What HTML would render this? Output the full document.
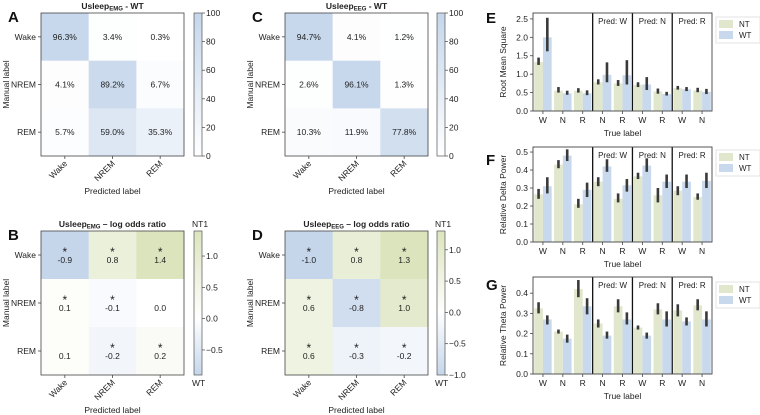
<!DOCTYPE html>
<html><head><meta charset="utf-8"><style>
html,body{margin:0;padding:0;background:#fff;}
svg{display:block;font-family:"Liberation Sans","DejaVu Sans",sans-serif;}
</style></head><body>
<svg id="fig" width="760" height="415" viewBox="0 0 760 415"></svg>
<script>
// ---------- data ----------
const stageLabels = ["Wake","NREM","REM"];
const confA = [[96.3,3.4,0.3],[4.1,89.2,6.7],[5.7,59.0,35.3]];
const confC = [[94.7,4.1,1.2],[2.6,96.1,1.3],[10.3,11.9,77.8]];
const lorB = [[-0.9,0.8,1.4],[0.1,-0.1,0.0],[0.1,-0.2,0.2]];
const starB = [[1,1,1],[1,1,0],[0,1,1]];
const lorD = [[-1.0,0.8,1.3],[0.6,-0.8,1.0],[0.6,-0.3,-0.2]];
const starD = [[1,1,1],[1,1,1],[1,1,1]];
const pctTicks = [0,20,40,60,80,100];
const lorTicksB = [-0.5,0.0,0.5,1.0];
const lorTicksD = [-1.0,-0.5,0.0,0.5,1.0];

const barCats = ["W","N","R","N","R","W","R","W","N"];
const sectionTitles = ["","Pred: W","Pred: N","Pred: R"];
const sectionSizes = [3,2,2,2];
const rmsNT = [1.33,0.55,0.55,0.78,0.75,0.71,0.53,0.62,0.56];
const rmsNTlo = [1.25,0.50,0.50,0.72,0.68,0.65,0.47,0.58,0.51];
const rmsNThi = [1.45,0.65,0.62,0.86,0.84,0.78,0.61,0.68,0.63];
const rmsWT = [2.0,0.48,0.48,0.98,0.97,0.72,0.46,0.59,0.52];
const rmsWTlo = [1.62,0.44,0.43,0.78,0.72,0.57,0.42,0.54,0.46];
const rmsWThi = [2.53,0.55,0.56,1.32,1.38,0.92,0.52,0.65,0.60];
const deltaNT = [0.265,0.43,0.21,0.335,0.24,0.365,0.26,0.285,0.25];
const deltaNTlo = [0.24,0.41,0.19,0.31,0.22,0.35,0.22,0.26,0.235];
const deltaNThi = [0.295,0.455,0.24,0.36,0.27,0.385,0.30,0.31,0.27];
const deltaWT = [0.31,0.48,0.29,0.42,0.315,0.425,0.335,0.335,0.34];
const deltaWTlo = [0.27,0.45,0.25,0.39,0.28,0.39,0.30,0.30,0.30];
const deltaWThi = [0.36,0.515,0.33,0.46,0.35,0.465,0.375,0.375,0.385];
const thetaNT = [0.325,0.21,0.42,0.25,0.335,0.23,0.32,0.315,0.34];
const thetaNTlo = [0.30,0.20,0.38,0.23,0.305,0.22,0.295,0.285,0.315];
const thetaNThi = [0.355,0.22,0.465,0.27,0.37,0.24,0.35,0.345,0.37];
const thetaWT = [0.27,0.175,0.335,0.19,0.27,0.19,0.27,0.26,0.27];
const thetaWTlo = [0.245,0.155,0.295,0.175,0.245,0.175,0.235,0.24,0.235];
const thetaWThi = [0.29,0.195,0.375,0.21,0.305,0.205,0.31,0.28,0.31];
const rmsTicks = [0,0.5,1.0,1.5,2.0,2.5];
const deltaTicks = [0,0.1,0.2,0.3,0.4,0.5];
const thetaTicks = [0,0.1,0.2,0.3,0.4];

// ---------- helpers ----------
const NS="http://www.w3.org/2000/svg";
const svg=document.getElementById('fig');
function mk(tag,attrs,parent){const e=document.createElementNS(NS,tag);for(const k in attrs)e.setAttribute(k,attrs[k]);(parent||svg).appendChild(e);return e;}
function txt(s,x,y,attrs,parent){const e=mk('text',Object.assign({x:x,y:y,'font-size':9,fill:'#222'},attrs||{}),parent);e.textContent=s;return e;}
function mix(c1,c2,t){return 'rgb('+[0,1,2].map(i=>Math.round(c1[i]+(c2[i]-c1[i])*t)).join(',')+')';}
const WHITE=[255,255,255],BLUE=[197,214,235],GREEN=[220,228,190];
function fmt(v,d){const s=v.toFixed(d);return s==="-0.0"?"0.0":s;}

function heatmap(opt){
  const g=mk('g',{});
  
  
  const x0=opt.x,y0=opt.y,W=143,H=opt.h,cw=W/3,ch=H/3;
  for(let r=0;r<3;r++)for(let c=0;c<3;c++){
    const v=opt.vals[r][c];
    const cell=mk('rect',{x:x0+c*cw,y:y0+r*ch,width:cw+0.5,height:ch+0.5,fill:opt.color(v)},g);
    
    
    const cx=x0+(c+0.5)*cw,cy=y0+(r+0.5)*ch;
    if(opt.pct){txt(v.toFixed(1)+'%',cx,cy+3,{'text-anchor':'middle','font-size':8.5},g);}
    else{
      if(opt.stars[r][c])txt('*',cx,cy+1,{'text-anchor':'middle','font-size':12},g);
      txt(fmt(v,1),cx,cy+8,{'text-anchor':'middle','font-size':8.5},g);
    }
  }
  mk('rect',{x:x0,y:y0,width:W,height:H,fill:'none',stroke:'#444','stroke-width':0.8},g);
  for(let i=0;i<3;i++){
    const cy=y0+(i+0.5)*ch;
    mk('line',{x1:x0-3,x2:x0,y1:cy,y2:cy,stroke:'#444','stroke-width':0.8},g);
    txt(stageLabels[i],x0-5,cy+3,{'text-anchor':'end','font-size':8.5},g);
    const cx=x0+(i+0.5)*cw;
    mk('line',{x1:cx,x2:cx,y1:y0+H,y2:y0+H+3,stroke:'#444','stroke-width':0.8},g);
    txt(stageLabels[i],cx+3,y0+H+8,{'text-anchor':'end','font-size':8.5,transform:'rotate(-45 '+(cx+3)+' '+(y0+H+8)+')'},g);
  }
  txt('Manual label',x0-32,y0+H/2,{'text-anchor':'middle','font-size':8.5,transform:'rotate(-90 '+(x0-32)+' '+(y0+H/2)+')'},g);
  txt('Predicted label',x0+W/2,y0+H+38,{'text-anchor':'middle','font-size':8.5},g);
  const t=txt('',x0+W/2,y0-4,{'text-anchor':'middle','font-size':8.5,'font-weight':'bold'},g);
  t.innerHTML='Usleep<tspan font-size="6" dy="1.5">'+opt.sub+'</tspan><tspan dy="-1.5">'+opt.titleRest+'</tspan>';
  txt(opt.letter,x0-33,y0+9,{'font-size':15,'font-weight':'bold',fill:'#111'},g);
  const bx=opt.cbx,bw=8;
  const grad=mk('linearGradient',{id:'grad'+opt.letter,x1:0,y1:1,x2:0,y2:0},g);
  opt.stops.forEach(s=>mk('stop',{offset:s[0],'stop-color':s[1]},grad));
  const cb=mk('rect',{x:bx,y:y0,width:bw,height:H,fill:'url(#grad'+opt.letter+')',stroke:'#555','stroke-width':0.7},g);
  
  
  opt.ticks.forEach(tv=>{
    const ty=opt.cbScale(tv);
    mk('line',{x1:bx+bw,x2:bx+bw+3,y1:ty,y2:ty,stroke:'#444','stroke-width':0.7},g);
    txt(opt.tickFmt(tv),bx+bw+4,ty+3,{'font-size':8.5},g);
  });
  if(opt.endLabels){txt('NT1',bx-2,y0-4,{'font-size':8.5},g);txt('WT',bx-2,y0+H+11,{'font-size':8.5},g);}
}

function pctColor(v){return mix(WHITE,BLUE,v/100);}
function divColor(vmin,vmax){return v=> v>=0?mix(WHITE,GREEN,v/vmax):mix(WHITE,BLUE,v/vmin);}
function divScale(y0,H,vmin,vmax){const yc=y0+H*vmax/(vmax-vmin);return v=> v>=0? yc-(v/vmax)*(yc-y0) : yc+(v/vmin)*(y0+H-yc);}
const bluStr='rgb(197,214,235)',grnStr='rgb(220,228,190)';

heatmap({name:'confusion-matrix-emg',letter:'A',x:41,y:13,h:143,vals:confA,pct:true,color:pctColor,sub:'EMG',titleRest:' - WT',cbx:194,
  stops:[[0,'#fff'],[1,bluStr]],ticks:pctTicks,cbScale:v=>156-v/100*143,tickFmt:v=>String(v)});
heatmap({name:'confusion-matrix-eeg',letter:'C',x:285,y:13,h:143,vals:confC,pct:true,color:pctColor,sub:'EEG',titleRest:' - WT',cbx:437,
  stops:[[0,'#fff'],[1,bluStr]],ticks:pctTicks,cbScale:v=>156-v/100*143,tickFmt:v=>String(v)});
const vB=[-0.9,1.4],vD=[-1.0,1.3];
heatmap({name:'log-odds-emg',letter:'B',x:41,y:231,h:144,vals:lorB,stars:starB,pct:false,color:divColor(vB[0],vB[1]),sub:'EMG',titleRest:' – log odds ratio',cbx:194,
  stops:[[0,bluStr],[vB[0]/(vB[0]-vB[1]),'#fff'],[1,grnStr]],ticks:lorTicksB,cbScale:divScale(231,144,vB[0],vB[1]),tickFmt:v=>(v<0?'\u2212':'')+Math.abs(v).toFixed(1),endLabels:true});
heatmap({name:'log-odds-eeg',letter:'D',x:285,y:231,h:144,vals:lorD,stars:starD,pct:false,color:divColor(vD[0],vD[1]),sub:'EEG',titleRest:' – log odds ratio',cbx:437,
  stops:[[0,bluStr],[vD[0]/(vD[0]-vD[1]),'#fff'],[1,grnStr]],ticks:lorTicksD,cbScale:divScale(231,144,vD[0],vD[1]),tickFmt:v=>(v<0?'\u2212':'')+Math.abs(v).toFixed(1),endLabels:true});

// ---------- bar charts ----------
function barChart(opt){
  const g=mk('g',{});
  
  
  const x0=533,x1=712,y0=opt.top,yb=opt.bottom;
  const ys=v=>yb-(v/opt.vmax)*(yb-y0);
  const gw=(x1-x0)/barCats.length;
  const bw=gw*0.44;
  for(let i=0;i<barCats.length;i++){
    const cx=x0+(i+0.5)*gw;
    [[opt.nt,opt.ntlo,opt.nthi,'#e1e7cd',-1,'nt'],[opt.wt,opt.wtlo,opt.wthi,'#c9d9ed',0,'wt']].forEach(s=>{
      const bx=cx+s[4]*bw;
      const b=mk('rect',{x:bx,y:ys(s[0][i]),width:bw,height:yb-ys(s[0][i]),fill:s[3]},g);
      
      
      const ex=bx+bw/2;
      mk('line',{x1:ex,x2:ex,y1:ys(s[1][i]),y2:ys(s[2][i]),stroke:'#3a3a3a','stroke-width':2.6},g);
    });
    mk('line',{x1:cx,x2:cx,y1:yb,y2:yb+3,stroke:'#444','stroke-width':0.8},g);
    txt(barCats[i],cx,yb+12,{'text-anchor':'middle','font-size':8.5},g);
  }
  let k=0;
  sectionSizes.forEach((n,si)=>{
    const sx=x0+k*gw;
    if(si>0)mk('line',{x1:sx,x2:sx,y1:y0,y2:yb,stroke:'#111','stroke-width':1.3},g);
    if(sectionTitles[si])txt(sectionTitles[si],sx+n*gw/2,y0+11,{'text-anchor':'middle','font-size':8},g);
    k+=n;
  });
  mk('rect',{x:x0,y:y0,width:x1-x0,height:yb-y0,fill:'none',stroke:'#444','stroke-width':0.9},g);
  opt.ticks.forEach(t=>{
    const ty=ys(t);
    mk('line',{x1:x0-3,x2:x0,y1:ty,y2:ty,stroke:'#444','stroke-width':0.8},g);
    txt(t.toFixed(1),x0-5,ty+3,{'text-anchor':'end','font-size':8.5},g);
  });
  txt(opt.ylabel,506,(y0+yb)/2,{'text-anchor':'middle','font-size':8.5,transform:'rotate(-90 506 '+((y0+yb)/2)+')'},g);
  txt('True label',(x0+x1)/2,yb+25,{'text-anchor':'middle','font-size':8.5},g);
  txt(opt.letter,486,opt.letterY,{'font-size':15,'font-weight':'bold',fill:'#111'},g);
  const lg=mk('g',{},g);
  
  
  const ly=opt.legY;
  mk('rect',{x:716,y:ly,width:44,height:26,fill:'#fff',stroke:'#ddd','stroke-width':0.8},lg);
  mk('rect',{x:719,y:ly+3,width:14,height:8,fill:'#e1e7cd'},lg);
  mk('rect',{x:719,y:ly+14,width:14,height:8,fill:'#c9d9ed'},lg);
  txt('NT',739,ly+10,{'font-size':8},lg);
  txt('WT',739,ly+21,{'font-size':8},lg);
}
barChart({name:'rms-chart',letter:'E',letterY:23,top:13,bottom:111,vmax:2.66,nt:rmsNT,ntlo:rmsNTlo,nthi:rmsNThi,wt:rmsWT,wtlo:rmsWTlo,wthi:rmsWThi,ticks:rmsTicks,ylabel:'Root Mean Square',legY:17});
barChart({name:'delta-power-chart',letter:'F',letterY:165,top:147,bottom:242,vmax:0.528,nt:deltaNT,ntlo:deltaNTlo,nthi:deltaNThi,wt:deltaWT,wtlo:deltaWTlo,wthi:deltaWThi,ticks:deltaTicks,ylabel:'Relative Delta Power',legY:150});
barChart({name:'theta-power-chart',letter:'G',letterY:290,top:277,bottom:374,vmax:0.48,nt:thetaNT,ntlo:thetaNTlo,nthi:thetaNThi,wt:thetaWT,wtlo:thetaWTlo,wthi:thetaWThi,ticks:thetaTicks,ylabel:'Relative Theta Power',legY:282});
</script>
</body></html>
